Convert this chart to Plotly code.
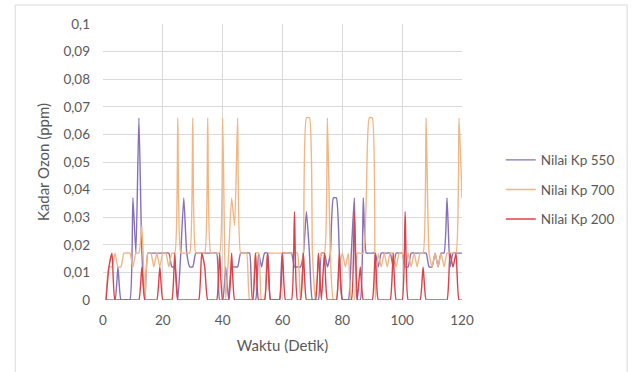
import plotly.graph_objects as go

waktu = list(range(1, 121))

kp550 = [0, 0, 0, 0, 0.012, 0, 0, 0, 0, 0.037,
         0.017, 0.066, 0.017, 0, 0.017, 0.017, 0.017, 0.017, 0.017, 0.017,
         0.017, 0.017, 0.012, 0.012, 0, 0.017, 0.037, 0.017, 0.012, 0.012,
         0.017, 0.017, 0.017, 0.017, 0.017, 0.017, 0.017, 0.017, 0, 0,
         0.012, 0, 0.012, 0.012, 0.012, 0.017, 0.017, 0.017, 0.017, 0,
         0, 0.017, 0.012, 0.017, 0.017, 0, 0, 0, 0, 0.017,
         0.017, 0.017, 0.017, 0.012, 0.012, 0.012, 0.017, 0.032, 0.017, 0,
         0, 0, 0.017, 0.017, 0.012, 0.017, 0.037, 0.037, 0.017, 0,
         0, 0, 0.017, 0.037, 0, 0, 0.037, 0.017, 0.017, 0.017,
         0.017, 0.012, 0.017, 0.017, 0.017, 0.017, 0.012, 0.017, 0.017, 0.017,
         0.012, 0.012, 0.017, 0.017, 0.017, 0.017, 0.017, 0.017, 0.012, 0.012,
         0.017, 0.012, 0.017, 0.017, 0.037, 0.012, 0.017, 0.017, 0.017, 0.017]

kp700 = [0, 0.012, 0.012, 0.017, 0.012, 0.012, 0.017, 0.017, 0.017, 0.012,
         0.017, 0.017, 0.027, 0, 0.017, 0.017, 0.012, 0.017, 0.012, 0.017,
         0.017, 0.012, 0.017, 0.017, 0.066, 0.017, 0.017, 0.017, 0.017, 0.066,
         0.017, 0.017, 0.017, 0.017, 0.066, 0.017, 0.017, 0.017, 0.017, 0.066,
         0, 0.017, 0.037, 0.027, 0.066, 0.017, 0.017, 0.017, 0, 0,
         0.017, 0.017, 0, 0, 0.017, 0.017, 0.017, 0.017, 0.017, 0.017,
         0.017, 0.017, 0.017, 0.017, 0.017, 0, 0.017, 0.066, 0.066, 0.017,
         0, 0.012, 0.017, 0.017, 0.066, 0.017, 0, 0, 0.012, 0.017,
         0.012, 0.017, 0, 0, 0.017, 0.017, 0.017, 0.037, 0.066, 0.066,
         0, 0.017, 0.012, 0.017, 0.012, 0.017, 0.017, 0.012, 0.017, 0.017,
         0.012, 0.017, 0.012, 0.017, 0.012, 0.017, 0.017, 0.066, 0.017, 0.012,
         0.017, 0.012, 0.017, 0.012, 0.017, 0.017, 0.017, 0.017, 0.066, 0.037]

kp200 = [0, 0.012, 0.017, 0, 0, 0, 0, 0, 0, 0,
         0, 0, 0.012, 0, 0, 0, 0, 0, 0.012, 0,
         0, 0, 0, 0.017, 0, 0, 0, 0, 0, 0,
         0, 0, 0.017, 0.012, 0, 0, 0, 0, 0.017, 0,
         0, 0, 0.017, 0, 0, 0, 0, 0, 0, 0,
         0.017, 0, 0, 0, 0.017, 0, 0, 0, 0, 0.017,
         0, 0, 0, 0.032, 0, 0, 0.017, 0, 0, 0,
         0, 0.017, 0, 0.017, 0, 0, 0, 0, 0.017, 0,
         0, 0, 0, 0.032, 0, 0.012, 0, 0, 0, 0,
         0.017, 0, 0, 0, 0, 0, 0.017, 0, 0, 0,
         0.032, 0, 0, 0, 0, 0, 0.012, 0, 0, 0,
         0, 0, 0, 0, 0, 0.017, 0.012, 0.017, 0, 0]

series_names = ["Nilai Kp 550", "Nilai Kp 700", "Nilai Kp 200"]
series_colors = ["#8670bb", "#f2b684", "#dd4149"]

x_ticks = [0, 20, 40, 60, 80, 100, 120]
y_ticks = [0, 0.01, 0.02, 0.03, 0.04, 0.05, 0.06, 0.07, 0.08, 0.09, 0.1]
y_ticktext = ["0", "0,01", "0,02", "0,03", "0,04", "0,05", "0,06", "0,07", "0,08", "0,09", "0,1"]

FONT = "Lato, 'Open Sans', sans-serif"
GRAY = "#595959"

fig = go.Figure()
for name, ys, col in zip(series_names, [kp550, kp700, kp200], series_colors):
    fig.add_trace(go.Scatter(
        x=waktu, y=ys, name=name, mode="lines", legendgroup=name,
        line=dict(color=col, width=1.4, shape="spline", smoothing=0.5),
    ))

fig.update_layout(
    width=632, height=372,
    margin=dict(l=103, r=165, t=24, b=72),
    paper_bgcolor="white", plot_bgcolor="white",
    font=dict(family=FONT, size=13.5, color=GRAY),
    showlegend=True,
    legend=dict(x=1.108, y=0.40, xanchor="left", yanchor="middle",
                tracegroupgap=9, font=dict(size=13.5, color=GRAY),
                bgcolor="rgba(0,0,0,0)", itemwidth=30),
    xaxis=dict(range=[0, 120], tickvals=x_ticks, showgrid=True,
               gridcolor="#d9d9d9", gridwidth=1, zeroline=False,
               showline=False, ticks="", ticklabelstandoff=10,
               title=dict(text="Waktu (Detik)", font=dict(size=15, color=GRAY), standoff=13)),
    yaxis=dict(range=[0, 0.1], tickvals=y_ticks, ticktext=y_ticktext, showgrid=True,
               gridcolor="#d9d9d9", gridwidth=1, zeroline=False,
               showline=False, ticks="", ticklabelstandoff=12,
               title=dict(text="Kadar Ozon (ppm)", font=dict(size=15, color=GRAY), standoff=10)),
    shapes=[dict(type="rect", xref="paper", yref="paper",
                 x0=-0.2445, x1=1.46, y0=-0.3, y1=1.069,
                 line=dict(color="#d9d9d9", width=1), layer="below")],
)

fig.write_html("out.html")
